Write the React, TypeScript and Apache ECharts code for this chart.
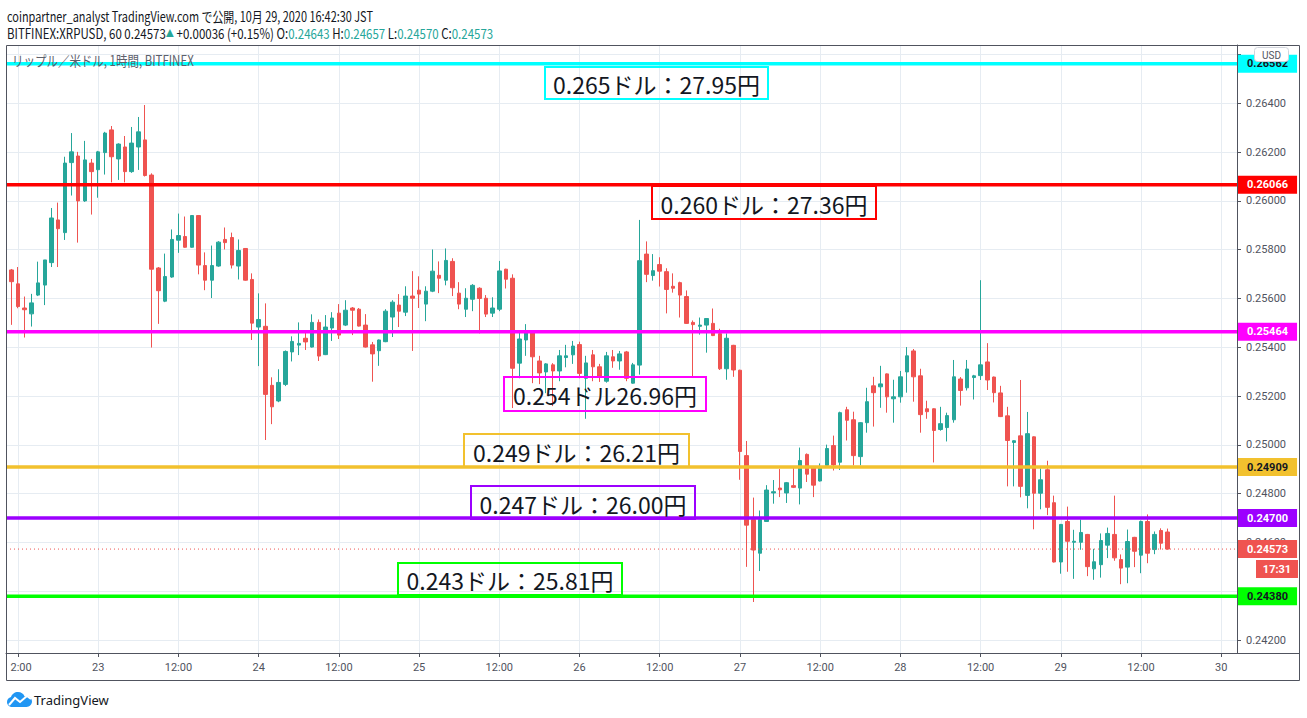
import React, { useEffect, useRef } from "react";
import * as echarts from "echarts";

// Hours are counted from Oct 22, 00:00. First candle: Oct 22, 11:00 (1 hour candles).
const FIRST_HOUR = 11;

const opens = [
  0.25717, 0.2566, 0.25561, 0.25537, 0.25614, 0.25655, 0.25747, 0.25922, 0.2587, 0.26157, 0.26184, 0.26,
  0.26155, 0.26128, 0.26198, 0.26291, 0.26172, 0.26221, 0.2612, 0.26221, 0.2625, 0.26106, 0.25725, 0.25589,
  0.25688, 0.25839, 0.25854, 0.2581, 0.2594, 0.25735, 0.25675, 0.25733, 0.25842, 0.2585, 0.25733, 0.25805,
  0.25678, 0.25483, 0.25486, 0.25244, 0.2518, 0.25248, 0.25381, 0.25409, 0.25437, 0.25401, 0.25502, 0.2537,
  0.25479, 0.2554, 0.25491, 0.25561, 0.25556, 0.25491, 0.2541, 0.25386, 0.25423, 0.25524, 0.25573, 0.25544,
  0.2561, 0.25634, 0.25577, 0.2563, 0.25695, 0.25675, 0.25752, 0.25622, 0.25556, 0.25597, 0.25642, 0.25601,
  0.2554, 0.25556, 0.2572, 0.25683, 0.25335, 0.2543, 0.25461, 0.25344, 0.25299, 0.25328, 0.25303, 0.25358,
  0.25369, 0.25411, 0.25273, 0.25369, 0.2532, 0.25261, 0.25361, 0.25344, 0.25381, 0.25253, 0.25327, 0.25782,
  0.25694, 0.25739, 0.2571, 0.2565, 0.25665, 0.25608, 0.25502, 0.25486, 0.25491, 0.25498, 0.25456, 0.25312,
  0.25408, 0.25306, 0.24956, 0.24694, 0.24556, 0.24686, 0.24803, 0.24823, 0.24803, 0.24833, 0.24823, 0.24961,
  0.24905, 0.24852, 0.24916, 0.24997, 0.24929, 0.25144, 0.25103, 0.24952, 0.25091, 0.25242, 0.25238, 0.25291,
  0.25189, 0.25197, 0.25299, 0.25385, 0.25283, 0.25148, 0.25148, 0.25063, 0.25071, 0.25103, 0.2527, 0.25234,
  0.25276, 0.25284, 0.2534, 0.25278, 0.25213, 0.25119, 0.2501, 0.25037, 0.24793, 0.25033, 0.24802, 0.24898,
  0.24763, 0.2452, 0.24686, 0.24601, 0.24601, 0.24633, 0.24492, 0.24509, 0.24589, 0.24633, 0.2453, 0.24499,
  0.24621, 0.24548, 0.24686, 0.24571, 0.24649, 0.24643,
];

const closes = [
  0.25669, 0.25567, 0.25554, 0.25582, 0.25664, 0.25758, 0.2593, 0.25886, 0.26155, 0.26201, 0.26, 0.26168,
  0.2612, 0.26201, 0.26278, 0.26181, 0.26233, 0.2612, 0.26237, 0.26283, 0.26104, 0.2572, 0.25632, 0.2569,
  0.25842, 0.25858, 0.2581, 0.2594, 0.25737, 0.25675, 0.25735, 0.25831, 0.25829, 0.25737, 0.25797, 0.25675,
  0.25499, 0.25514, 0.25207, 0.25156, 0.25256, 0.25383, 0.25424, 0.25416, 0.25422, 0.25502, 0.25364, 0.25483,
  0.2552, 0.2545, 0.25552, 0.25552, 0.25487, 0.25401, 0.25373, 0.2543, 0.25548, 0.25585, 0.25548, 0.2561,
  0.25601, 0.25618, 0.2563, 0.25712, 0.25683, 0.25756, 0.25644, 0.25577, 0.25601, 0.25654, 0.256, 0.25536,
  0.25561, 0.25713, 0.25679, 0.25314, 0.25434, 0.25459, 0.25361, 0.25295, 0.25332, 0.25303, 0.25365, 0.25365,
  0.25405, 0.25293, 0.25336, 0.2532, 0.25279, 0.25365, 0.25344, 0.25373, 0.25273, 0.25328, 0.25755, 0.25699,
  0.25714, 0.25712, 0.25637, 0.25642, 0.25614, 0.25498, 0.25493, 0.25491, 0.25518, 0.25448, 0.25312, 0.25437,
  0.25307, 0.24973, 0.24671, 0.24569, 0.24694, 0.24815, 0.24808, 0.24816, 0.24845, 0.24826, 0.24936, 0.2488,
  0.24835, 0.24905, 0.24985, 0.24918, 0.25132, 0.25101, 0.24956, 0.25091, 0.25177, 0.25214, 0.2525, 0.25197,
  0.25197, 0.25279, 0.25365, 0.25279, 0.25124, 0.25136, 0.25059, 0.25087, 0.2512, 0.25279, 0.25223, 0.25311,
  0.25283, 0.25328, 0.25266, 0.25214, 0.25116, 0.25018, 0.25017, 0.2483, 0.25046, 0.24802, 0.24857, 0.24744,
  0.2452, 0.24674, 0.24605, 0.24605, 0.24641, 0.24501, 0.24521, 0.24608, 0.24637, 0.24537, 0.24495, 0.24604,
  0.24564, 0.24686, 0.24556, 0.24633, 0.24597, 0.24573,
];

const lows = [
  0.25492, 0.2556, 0.2544, 0.25485, 0.2561, 0.25573, 0.25729, 0.25729, 0.2584, 0.26022, 0.25829, 0.25996,
  0.25944, 0.26013, 0.26108, 0.26076, 0.26086, 0.26076, 0.26115, 0.26127, 0.261, 0.25399, 0.25496, 0.25585,
  0.25685, 0.25787, 0.25808, 0.25808, 0.25699, 0.25634, 0.25602, 0.2573, 0.25801, 0.25723, 0.25678, 0.25673,
  0.2543, 0.25323, 0.2502, 0.25085, 0.25175, 0.25241, 0.25342, 0.25368, 0.25389, 0.25399, 0.25344, 0.25368,
  0.25426, 0.25434, 0.25487, 0.2545, 0.25485, 0.25399, 0.25259, 0.25324, 0.25421, 0.25442, 0.25483, 0.25528,
  0.25385, 0.25561, 0.25507, 0.25626, 0.25622, 0.25654, 0.2561, 0.25556, 0.25524, 0.25548, 0.25457, 0.25524,
  0.25524, 0.25548, 0.25641, 0.25151, 0.25273, 0.25365, 0.25253, 0.25249, 0.25212, 0.25159, 0.25261, 0.25318,
  0.25332, 0.25273, 0.25107, 0.25261, 0.25258, 0.25255, 0.25316, 0.25308, 0.25261, 0.25251, 0.25288, 0.25667,
  0.25673, 0.25649, 0.25539, 0.25624, 0.25522, 0.25496, 0.25279, 0.25452, 0.25378, 0.25446, 0.25307, 0.25267,
  0.25279, 0.24857, 0.245, 0.24356, 0.24483, 0.24684, 0.24759, 0.24786, 0.24762, 0.24823, 0.24756, 0.24848,
  0.24786, 0.2485, 0.24914, 0.24895, 0.24897, 0.25018, 0.24916, 0.24916, 0.2505, 0.25075, 0.25152, 0.25132,
  0.25091, 0.25173, 0.25214, 0.25177, 0.2505, 0.25107, 0.24928, 0.25058, 0.25014, 0.25091, 0.25161, 0.25223,
  0.25186, 0.25266, 0.25225, 0.25174, 0.25114, 0.2483, 0.2483, 0.24785, 0.2474, 0.24654, 0.24736, 0.24712,
  0.24518, 0.24472, 0.2448, 0.24451, 0.2457, 0.24462, 0.24447, 0.24456, 0.24536, 0.24525, 0.24429, 0.24433,
  0.24499, 0.24474, 0.24515, 0.24552, 0.24571, 0.2457,
];

const highs = [
  0.25721, 0.25729, 0.25608, 0.25619, 0.25751, 0.25758, 0.25971, 0.25993, 0.26181, 0.26278, 0.26201, 0.26246,
  0.26172, 0.26205, 0.26283, 0.26307, 0.26236, 0.26266, 0.26303, 0.26344, 0.26393, 0.26113, 0.25729, 0.25784,
  0.25883, 0.25948, 0.25936, 0.25942, 0.25942, 0.25789, 0.25817, 0.25835, 0.25891, 0.2587, 0.25842, 0.25807,
  0.25703, 0.25621, 0.2558, 0.25277, 0.2531, 0.25387, 0.25445, 0.25502, 0.25461, 0.25535, 0.25514, 0.25532,
  0.25544, 0.25577, 0.25593, 0.25565, 0.25561, 0.25536, 0.25422, 0.25432, 0.25556, 0.25593, 0.25618, 0.2565,
  0.25712, 0.25691, 0.2565, 0.25801, 0.25752, 0.25805, 0.25765, 0.25667, 0.25642, 0.25659, 0.25646, 0.25614,
  0.25605, 0.25754, 0.25722, 0.25699, 0.25459, 0.25495, 0.25463, 0.25365, 0.25335, 0.25335, 0.25389, 0.2541,
  0.25426, 0.25423, 0.25365, 0.25389, 0.25332, 0.25381, 0.25389, 0.25385, 0.25385, 0.25336, 0.25922, 0.25834,
  0.25782, 0.25769, 0.25724, 0.25703, 0.25669, 0.25633, 0.2551, 0.25522, 0.2552, 0.25559, 0.25476, 0.25457,
  0.2541, 0.25308, 0.25016, 0.24784, 0.24731, 0.24835, 0.24856, 0.24901, 0.24848, 0.24905, 0.24989, 0.24965,
  0.24907, 0.24924, 0.25001, 0.25038, 0.25136, 0.25156, 0.25136, 0.25093, 0.25234, 0.25279, 0.25324, 0.25293,
  0.25267, 0.25303, 0.25401, 0.25393, 0.25312, 0.25181, 0.2515, 0.25156, 0.25132, 0.25348, 0.25278, 0.25348,
  0.25287, 0.25675, 0.25417, 0.2528, 0.25242, 0.25156, 0.25019, 0.25266, 0.25135, 0.25035, 0.24904, 0.24935,
  0.24792, 0.24676, 0.24747, 0.24652, 0.24694, 0.24635, 0.24574, 0.24637, 0.24661, 0.24792, 0.24551, 0.24653,
  0.24623, 0.2469, 0.24715, 0.24645, 0.24658, 0.24657,
];

// grid / tick values; the labels at 0.244 and 0.266 sit under the level badges in the original
const priceTicks = [0.242, 0.244, 0.246, 0.248, 0.25, 0.252, 0.254, 0.256, 0.258, 0.26, 0.262, 0.264, 0.266];
const priceTickLabels = [0.242, 0.246, 0.248, 0.25, 0.252, 0.254, 0.256, 0.258, 0.26, 0.262, 0.264];
const timeTicks = [12, 24, 36, 48, 60, 72, 84, 96, 108, 120, 132, 144, 156, 168, 180, 192];
const FIRST_DAY = 22;

const levelValues = [0.26562, 0.26066, 0.25464, 0.24909, 0.247, 0.2438];
const levelNotes = [
  "0.265ドル：27.95円",
  "0.260ドル：27.36円",
  "0.254ドル26.96円",
  "0.249ドル：26.21円",
  "0.247ドル：26.00円",
  "0.243ドル：25.81円",
];
const lastPrice = 0.24573;
const countdown = "17:31";

const headerLine1 = "coinpartner_analyst TradingView.com で公開, 10月 29, 2020 16:42:30 JST";
const symbolTitle = "リップル／米ドル, 1時間, BITFINEX";

// ---- styles ----
const X_MIN = 10.2;
const X_MAX = 194.36;
const levelColors = ["#00ffff", "#ff0000", "#ff00ff", "#f2c12e", "#9c00ff", "#00ff00"];
const levelTextColors = ["#131722", "#ffffff", "#ffffff", "#131722", "#ffffff", "#131722"];
const noteBoxes = [
  [545, 67, 223, 32],
  [652, 186, 224, 33],
  [504, 377, 202, 34],
  [464, 434, 225, 33],
  [471, 486, 224, 33],
  [398, 563, 224, 32],
];

const UP = "#26a69a";
const DOWN = "#ef5350";
const AXIS = "#50535e";
const GRIDC = "#e6ecf2";
const FONT = "'Noto Sans CJK JP', 'Noto Sans', sans-serif";

const LOGO_D =
  "M5 15 C2.2 15 0 12.8 0 10 C0 7.6 1.7 5.6 4 5.1 C4.9 2.1 7.7 0 11 0 C14 0 16.6 1.8 17.6 4.4 C18.2 4.2 18.8 4.1 19.5 4.1 C22.5 4.1 25 6.6 25 9.6 C25 12.6 22.5 15 19.5 15 Z";
let logoRegistered = false;

function priceLabel(text: string, bg: string, fg: string) {
  return {
    show: true,
    distance: 1,
    formatter: () => text,
    color: fg,
    backgroundColor: bg,
    fontWeight: "bold",
    fontSize: 11,
    fontFamily: "Roboto",
    padding: [4, 9, 3, 9],
  };
}

export default function App() {
  const ref = useRef<HTMLDivElement>(null);

  useEffect(() => {
    document.body.style.margin = "0";
    if (!logoRegistered) {
      echarts.graphic.registerShape("tvlogo", echarts.graphic.extendPath(LOGO_D, {}));
      logoRegistered = true;
    }
    const chart = echarts.init(ref.current!, null, { renderer: "svg" });

    const candles = opens.map((o, i) => [FIRST_HOUR + i, o, closes[i], lows[i], highs[i]]);

    const levelSeries: any[] = levelValues.map((v, i) => ({
      type: "line",
      data: [
        [X_MIN, v],
        [X_MAX, v],
      ],
      symbol: "none",
      silent: true,
      clip: false,
      z: 5,
      lineStyle: { color: levelColors[i], width: 3.5, type: "solid" },
      endLabel: priceLabel(v.toFixed(5), levelColors[i], levelTextColors[i]),
    }));
    levelSeries.push({
      type: "line",
      data: [
        [X_MIN, lastPrice],
        [X_MAX, lastPrice],
      ],
      symbol: "none",
      silent: true,
      clip: false,
      z: 4,
      lineStyle: { color: DOWN, width: 1, type: [1, 3] },
      endLabel: priceLabel(lastPrice.toFixed(5), DOWN, "#ffffff"),
    });

    const graphics: any[] = [
      {
        type: "text",
        x: 7,
        y: 16,
        scaleX: 0.78,
        style: { text: headerLine1, fontSize: 14, fontFamily: FONT, fill: "#131722", verticalAlign: "middle" },
      },
      {
        type: "text",
        x: 7,
        y: 33,
        scaleX: 0.82,
        style: {
          text:
            "{a|BITFINEX:XRPUSD, 60 0.24573}{u|▲}{a| +0.00036 (+0.15%) O:}{v|0.24643}{a| H:}{v|0.24657}{a| L:}{v|0.24570}{a| C:}{v|0.24573}",
          verticalAlign: "middle",
          rich: {
            a: { fontSize: 14, fontFamily: FONT, fill: "#131722" },
            v: { fontSize: 14, fontFamily: FONT, fill: UP },
            u: { fontSize: 10, fontFamily: FONT, fill: UP },
          },
        },
      },
      {
        type: "text",
        x: 12,
        y: 60,
        z: 70,
        scaleX: 0.82,
        style: { text: symbolTitle, fontSize: 14, fontFamily: FONT, fill: "#5d606b", verticalAlign: "middle" },
      },
      {
        type: "rect",
        z: 49,
        shape: { x: 0, y: 656, width: 10, height: 23 },
        style: { fill: "#ffffff" },
      },
      {
        type: "rect",
        z: 50,
        shape: { x: 6.5, y: 45.5, width: 1293, height: 635 },
        style: { fill: "none", stroke: AXIS, lineWidth: 1 },
      },
      {
        type: "line",
        z: 50,
        shape: { x1: 1237, y1: 653.5, x2: 1300, y2: 653.5 },
        style: { stroke: AXIS, lineWidth: 1 },
      },
      {
        type: "rect",
        z: 100,
        shape: { x: 1254.5, y: 47.5, width: 34, height: 14, r: 3 },
        style: { fill: "#ffffff", stroke: "#d1d4dc", lineWidth: 1 },
      },
      {
        type: "text",
        z: 101,
        x: 1271.5,
        y: 55,
        style: { text: "USD", fontSize: 10, fontFamily: "Roboto", fill: AXIS, align: "center", verticalAlign: "middle" },
      },
      {
        type: "rect",
        z: 100,
        shape: { x: 1256, y: 560, width: 42, height: 18 },
        style: { fill: DOWN },
      },
      {
        type: "text",
        z: 101,
        x: 1277,
        y: 569.5,
        style: {
          text: countdown,
          fontSize: 11,
          fontWeight: "bold",
          fontFamily: "Roboto",
          fill: "#ffffff",
          align: "center",
          verticalAlign: "middle",
        },
      },
      {
        type: "tvlogo",
        x: 7,
        y: 692,
        scaleX: 1,
        scaleY: 1,
        style: { fill: "#2196f3" },
      },
      {
        type: "polyline",
        shape: { points: [[9, 705], [15, 698], [20, 702], [27, 696], [31, 699]] },
        style: { stroke: "#ffffff", lineWidth: 2, fill: "none" },
      },
      {
        type: "text",
        x: 34,
        y: 700,
        style: { text: "TradingView", fontSize: 13, fontFamily: "'Noto Sans', sans-serif", fill: "#131722", verticalAlign: "middle" },
      },
    ];

    levelNotes.forEach((t, i) => {
      const [bx, by, bw, bh] = noteBoxes[i];
      graphics.push({
        type: "rect",
        z: 60,
        shape: { x: bx, y: by, width: bw, height: bh },
        style: { fill: "none", stroke: levelColors[i], lineWidth: 2 },
      });
      graphics.push({
        type: "text",
        z: 61,
        x: bx + bw / 2,
        y: by + bh / 2 + 1,
        style: { text: t, fontSize: 23, fontFamily: FONT, fill: "#131722", align: "center", verticalAlign: "middle" },
      });
    });

    chart.setOption({
      animation: false,
      backgroundColor: "#ffffff",
      grid: { left: 6, right: 70, top: 45, bottom: 65 },
      xAxis: {
        type: "value",
        min: X_MIN,
        max: X_MAX,
        axisLine: { show: true, lineStyle: { color: AXIS } },
        axisTick: { show: true, length: 4, lineStyle: { color: AXIS }, customValues: timeTicks },
        axisLabel: {
          customValues: timeTicks,
          color: AXIS,
          fontSize: 11,
          fontFamily: "Roboto",
          margin: 9,
          formatter: (v: number) => (v % 24 === 0 ? String(FIRST_DAY + v / 24) : "12:00"),
        },
        splitLine: { show: true, lineStyle: { color: GRIDC, width: 1 } },
      },
      yAxis: {
        type: "value",
        position: "right",
        min: 0.24147,
        max: 0.26639,
        axisLine: { show: true, lineStyle: { color: AXIS } },
        axisTick: { show: true, length: 4, lineStyle: { color: AXIS }, customValues: priceTicks },
        axisLabel: {
          customValues: priceTickLabels,
          color: AXIS,
          fontSize: 11,
          fontFamily: "Roboto",
          margin: 9,
          formatter: (v: number) => v.toFixed(5),
        },
        splitLine: { show: true, lineStyle: { color: GRIDC, width: 1 } },
      },
      series: [
        {
          type: "candlestick",
          data: candles,
          barWidth: 4,
          z: 3,
          itemStyle: { color: UP, color0: DOWN, borderColor: UP, borderColor0: DOWN, borderWidth: 1 },
        },
        ...levelSeries,
      ],
      graphic: graphics,
    });

    return () => chart.dispose();
  }, []);

  return <div ref={ref} style={{ width: 1307, height: 718 }} />;
}
